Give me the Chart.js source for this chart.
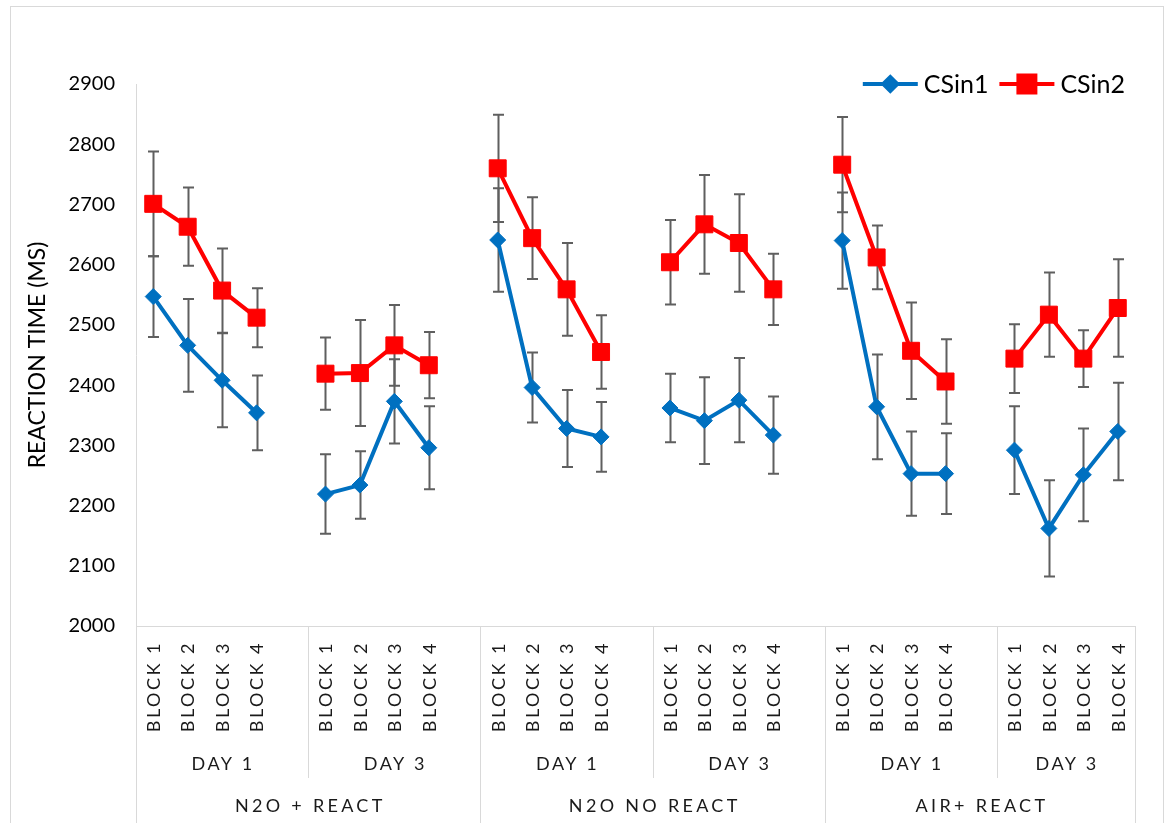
<!DOCTYPE html>
<html>
<head>
<meta charset="utf-8">
<script src="https://cdn.jsdelivr.net/npm/chart.js@4/dist/chart.umd.min.js"></script>
<style>
  body { margin: 0; background: #fff; }
  #wrap { width: 1165px; height: 823px; position: relative; }
</style>
</head>
<body>
<div id="wrap"><canvas id="chart"></canvas></div>
<script>
// category levels
const groupLabels = ['N2O + REACT', 'N2O NO REACT', 'AIR+ REACT'];
const dayLabels = ['DAY 1', 'DAY 3'];
const blockLabels = ['BLOCK 1', 'BLOCK 2', 'BLOCK 3', 'BLOCK 4'];

// means and error bars, in block order for each group / day
const csin1 = [2547, 2466, 2408, 2354, 2219, 2234, 2373, 2296,
               2641, 2396, 2328, 2314, 2362, 2341, 2375, 2317,
               2640, 2364, 2253, 2253, 2292, 2162, 2251, 2323];
const csin1Err = [67, 77, 78, 62, 66, 56, 70, 69,
                  86, 58, 64, 58, 57, 72, 70, 64,
                  80, 87, 70, 67, 73, 80, 77, 81];
const csin2 = [2701, 2663, 2557, 2512, 2419, 2420, 2466, 2433,
               2760, 2644, 2559, 2455, 2604, 2667, 2636, 2559,
               2766, 2612, 2457, 2406, 2444, 2517, 2444, 2528];
const csin2Err = [87, 65, 70, 49, 60, 88, 67, 55,
                  89, 68, 77, 61, 70, 82, 81, 59,
                  79, 53, 80, 70, 57, 70, 47, 81];

const yMin = 2000, yMax = 2900, yStep = 100;

// build slots: 4 blocks per day, blank slot between days so the lines break
const slots = [];
const nDays = groupLabels.length * dayLabels.length;
let k = 0;
groupLabels.forEach(function (g, gi) {
    dayLabels.forEach(function (d, di) {
        blockLabels.forEach(function (b) {
            slots.push({ label: b, group: gi, day: di, idx: k++ });
        });
        if (gi * dayLabels.length + di < nDays - 1) {
            slots.push({ label: '', group: gi, day: di, idx: null });
        }
    });
});

function spread(arr) {
    return slots.map(s => s.idx === null ? null : arr[s.idx]);
}

const FONT = 'Lato';
const TEXT = '#1a1a1a';

// grey border round the whole chart
const frame = {
    id: 'frame',
    beforeDraw(chart) {
        const ctx = chart.ctx;
        ctx.save();
        ctx.strokeStyle = '#d9d9d9';
        ctx.lineWidth = 1;
        ctx.strokeRect(10.5, 6.5, 1153, 900);
        ctx.restore();
    }
};

// error bars under the lines
const errorBars = {
    id: 'errorBars',
    beforeDatasetsDraw(chart) {
        const ctx = chart.ctx;
        const y = chart.scales.y;
        ctx.save();
        ctx.strokeStyle = '#5f5f5f';
        ctx.lineWidth = 2;
        chart.data.datasets.forEach(function (ds, di) {
            const meta = chart.getDatasetMeta(di);
            ds.data.forEach(function (v, i) {
                if (v === null) return;
                const e = ds.errors[i];
                const x = Math.round(meta.data[i].x) + 0.5;
                const top = y.getPixelForValue(v + e);
                const bot = y.getPixelForValue(v - e);
                ctx.beginPath();
                ctx.moveTo(x, top); ctx.lineTo(x, bot);
                ctx.moveTo(x - 5.5, top); ctx.lineTo(x + 5.5, top);
                ctx.moveTo(x - 5.5, bot); ctx.lineTo(x + 5.5, bot);
                ctx.stroke();
            });
        });
        ctx.restore();
    }
};

// three level category axis
const multiAxis = {
    id: 'multiAxis',
    afterDraw(chart) {
        const ctx = chart.ctx;
        const x = chart.scales.x;
        const area = chart.chartArea;
        const w = x.getPixelForValue(1) - x.getPixelForValue(0);
        const edge = i => area.left + i * w;
        ctx.save();

        // dividers
        ctx.strokeStyle = '#d9d9d9';
        ctx.lineWidth = 1;
        const long = [0, 10, 20, slots.length];
        const short = [5, 15, 25];
        long.forEach(function (i) {
            const px = Math.round(edge(i)) + 0.5;
            ctx.beginPath(); ctx.moveTo(px, area.bottom); ctx.lineTo(px, 830); ctx.stroke();
        });
        short.forEach(function (i) {
            const px = Math.round(edge(i)) + 0.5;
            ctx.beginPath(); ctx.moveTo(px, area.bottom); ctx.lineTo(px, 778); ctx.stroke();
        });

        ctx.fillStyle = TEXT;
        // block labels, rotated
        ctx.font = '18px ' + FONT;
        ctx.letterSpacing = '2.5px';
        ctx.textAlign = 'right';
        ctx.textBaseline = 'middle';
        slots.forEach(function (s, i) {
            if (!s.label) return;
            ctx.save();
            ctx.translate(x.getPixelForValue(i) + 1, area.bottom + 15);
            ctx.rotate(-Math.PI / 2);
            ctx.fillText(s.label, 0, 0);
            ctx.restore();
        });

        // day labels
        ctx.textAlign = 'center';
        let start = 0;
        for (let d = 0; d < nDays; d++) {
            const end = d === nDays - 1 ? slots.length : start + 5;
            ctx.fillText(dayLabels[d % dayLabels.length], (edge(start) + edge(end)) / 2 + 1, 764);
            start = end;
        }

        // group labels
        ctx.letterSpacing = '3.3px';
        groupLabels.forEach(function (g, gi) {
            const a = gi * 10;
            const b = Math.min(a + 10, slots.length);
            ctx.fillText(g, (edge(a) + edge(b)) / 2 + 2, 806);
        });
        ctx.restore();
    }
};

// legend: line with marker, then name, top right of the plot
const lineLegend = {
    id: 'lineLegend',
    afterDraw(chart) {
        const ctx = chart.ctx;
        const area = chart.chartArea;
        const yc = area.top;
        ctx.save();
        ctx.font = '25px ' + FONT;
        ctx.textBaseline = 'middle';
        ctx.textAlign = 'left';
        const lineLen = 55, gap = 6, itemGap = 11;
        const items = chart.data.datasets.map(ds => ({ ds: ds, tw: ctx.measureText(ds.label).width }));
        let total = 0;
        items.forEach(it => { total += lineLen + gap + it.tw; });
        total += itemGap * (items.length - 1);
        let px = area.right - 10 - total;
        items.forEach(function (it) {
            const ds = it.ds;
            ctx.strokeStyle = ds.borderColor;
            ctx.lineWidth = 4;
            ctx.beginPath(); ctx.moveTo(px, yc); ctx.lineTo(px + lineLen, yc); ctx.stroke();
            Chart.helpers.drawPoint(ctx, {
                pointStyle: ds.pointStyle,
                radius: ds.legendRadius,
                borderWidth: 1
            }, px + lineLen / 2, yc);
            ctx.fillStyle = ds.backgroundColor;
            ctx.fill();
            ctx.fillStyle = '#000';
            ctx.fillText(ds.label, px + lineLen + gap, yc + 1);
            px += lineLen + gap + it.tw + itemGap;
        });
        ctx.restore();
    }
};

new Chart(document.getElementById('chart'), {
    type: 'line',
    data: {
        labels: slots.map(s => s.label),
        datasets: [
            {
                label: 'CSin1',
                data: spread(csin1),
                errors: spread(csin1Err),
                borderColor: '#0070c0',
                backgroundColor: '#0070c0',
                borderWidth: 4,
                pointStyle: 'rectRot',
                pointRadius: 8,
                legendRadius: 7,
                pointBorderWidth: 1,
                spanGaps: false
            },
            {
                label: 'CSin2',
                data: spread(csin2),
                errors: spread(csin2Err),
                borderColor: '#ff0000',
                backgroundColor: '#ff0000',
                borderWidth: 4,
                pointStyle: 'rect',
                pointRadius: 12,
                legendRadius: 12,
                pointBorderWidth: 1,
                spanGaps: false
            }
        ]
    },
    options: {
        responsive: true,
        maintainAspectRatio: false,
        animation: false,
        layout: { padding: { top: 84, right: 30, bottom: 0, left: 10 } },
        plugins: {
            legend: { display: false },
            tooltip: { enabled: false }
        },
        scales: {
            x: {
                type: 'category',
                offset: true,
                grid: { display: false, drawTicks: false },
                border: { display: true, color: '#d9d9d9', width: 1 },
                ticks: { display: false },
                afterFit: function (s) { s.height = 197; }
            },
            y: {
                min: yMin,
                max: yMax,
                grid: { display: false, drawTicks: false },
                border: { display: true, color: '#d9d9d9', width: 1 },
                ticks: {
                    stepSize: yStep,
                    padding: 21,
                    color: '#000',
                    font: { family: FONT, size: 20 },
                    callback: v => String(v)
                },
                title: {
                    display: true,
                    text: 'REACTION TIME (MS)',
                    color: '#000',
                    font: { family: FONT, size: 23 },
                    padding: { top: 14, bottom: 0 }
                },
                afterFit: function (s) { s.width = 126; }
            }
        }
    },
    plugins: [frame, errorBars, multiAxis, lineLegend]
});
</script>
</body>
</html>
